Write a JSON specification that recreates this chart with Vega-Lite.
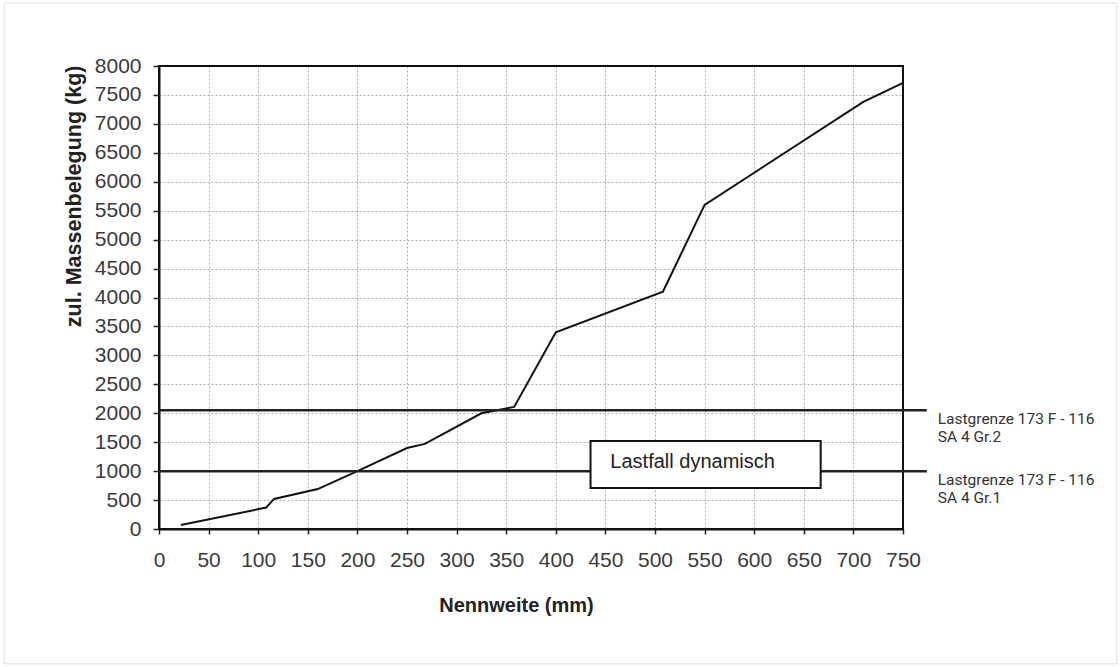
{
  "$schema": "https://vega.github.io/schema/vega-lite/v6.json",
  "width": 744,
  "height": 463,
  "autosize": {"type": "none"},
  "padding": {"left": 159, "top": 66, "right": 217, "bottom": 138},
  "background": "white",
  "config": {
    "view": {"stroke": null},
    "font": "Liberation Sans"
  },
  "layer": [
    {
      "data": {"values": [
        {"dn": 22, "kg": 70},
        {"dn": 108, "kg": 370},
        {"dn": 116, "kg": 520},
        {"dn": 160, "kg": 690},
        {"dn": 200, "kg": 1000},
        {"dn": 250, "kg": 1400},
        {"dn": 268, "kg": 1470},
        {"dn": 325, "kg": 2000},
        {"dn": 358, "kg": 2110},
        {"dn": 400, "kg": 3400},
        {"dn": 508, "kg": 4100},
        {"dn": 550, "kg": 5600},
        {"dn": 710, "kg": 7380},
        {"dn": 750, "kg": 7710}
      ]},
      "mark": {"type": "line", "color": "#111", "strokeWidth": 2},
      "encoding": {
        "x": {
          "field": "dn", "type": "quantitative",
          "scale": {"domain": [0, 750], "nice": false, "zero": false},
          "axis": {
            "title": "Nennweite (mm)",
            "values": [0, 50, 100, 150, 200, 250, 300, 350, 400, 450, 500, 550, 600, 650, 700, 750],
            "format": "d",
            "labelFontSize": 21, "labelColor": "#3a3a3a", "labelFont": "Liberation Sans",
            "labelBaseline": "middle", "labelPadding": 26, "labelFlush": false, "labelOverlap": false,
            "tickSize": 5, "tickColor": "#222", "tickWidth": 1.5,
            "domainColor": "#111", "domainWidth": 2,
            "grid": true, "gridColor": "#b0b0b0", "gridDash": [2, 2], "gridWidth": 1,
            "titleFontSize": 20, "titleFont": "Liberation Sans", "titleFontWeight": "bold", "titleColor": "#222",
            "titleX": 357, "titleY": 76, "titleBaseline": "middle"
          }
        },
        "y": {
          "field": "kg", "type": "quantitative",
          "scale": {"domain": [0, 8000], "nice": false, "zero": false},
          "axis": {
            "title": "zul. Massenbelegung (kg)",
            "values": [0, 500, 1000, 1500, 2000, 2500, 3000, 3500, 4000, 4500, 5000, 5500, 6000, 6500, 7000, 7500, 8000],
            "tickCount": 17,
            "format": "d",
            "labelFontSize": 21, "labelColor": "#3a3a3a", "labelFont": "Liberation Sans",
            "labelPadding": 12, "labelFlush": false, "labelOverlap": false,
            "tickSize": 6, "tickColor": "#222", "tickWidth": 1.5,
            "domainColor": "#111", "domainWidth": 2,
            "grid": true, "gridColor": "#b0b0b0", "gridDash": [2, 2], "gridWidth": 1,
            "titleFontSize": 21.5, "titleFont": "Liberation Sans", "titleFontWeight": "bold", "titleColor": "#222",
            "titleX": -85, "titleY": -1, "titleAlign": "right", "titleBaseline": "middle", "titleAngle": -90
          }
        }
      }
    },
    {
      "data": {"values": [{"frame": "border"}]},
      "mark": {"type": "rect", "fill": null, "stroke": "#dddddd", "strokeWidth": 1},
      "encoding": {
        "x": {"datum": -156},
        "x2": {"datum": 965.5},
        "y": {"datum": 9088},
        "y2": {"datum": -2330}
      }
    },
    {
      "data": {"values": [{"frame": "plot"}]},
      "mark": {"type": "rect", "fill": null, "stroke": "#111", "strokeWidth": 2},
      "encoding": {
        "x": {"datum": 0},
        "x2": {"datum": 750},
        "y": {"datum": 0},
        "y2": {"datum": 8000}
      }
    },
    {
      "data": {"values": [
        {"limit": 2050, "label": ["Lastgrenze 173 F - 116", "SA 4 Gr.2"]},
        {"limit": 1000, "label": ["Lastgrenze 173 F - 116", "SA 4 Gr.1"]}
      ]},
      "layer": [
        {
          "mark": {"type": "rule", "color": "#222", "strokeWidth": 2.5},
          "encoding": {
            "x": {"datum": 0},
            "x2": {"datum": 774},
            "y": {"field": "limit", "type": "quantitative"}
          }
        },
        {
          "mark": {"type": "text", "align": "left", "baseline": "middle", "dy": 9, "font": "Roboto", "fontSize": 15.5, "lineHeight": 18, "color": "#333"},
          "encoding": {
            "x": {"datum": 785},
            "y": {"field": "limit", "type": "quantitative"},
            "text": {"field": "label"}
          }
        }
      ]
    },
    {
      "data": {"values": [{"note": "Lastfall dynamisch"}]},
      "layer": [
        {
          "mark": {"type": "rect", "fill": "white", "stroke": "#111", "strokeWidth": 2},
          "encoding": {
            "x": {"datum": 435},
            "x2": {"datum": 667},
            "y": {"datum": 710},
            "y2": {"datum": 1520}
          }
        },
        {
          "mark": {"type": "text", "align": "left", "baseline": "middle", "font": "Liberation Sans", "fontSize": 20, "color": "#222"},
          "encoding": {
            "x": {"datum": 455},
            "y": {"datum": 1164},
            "text": {"field": "note"}
          }
        }
      ]
    }
  ]
}
